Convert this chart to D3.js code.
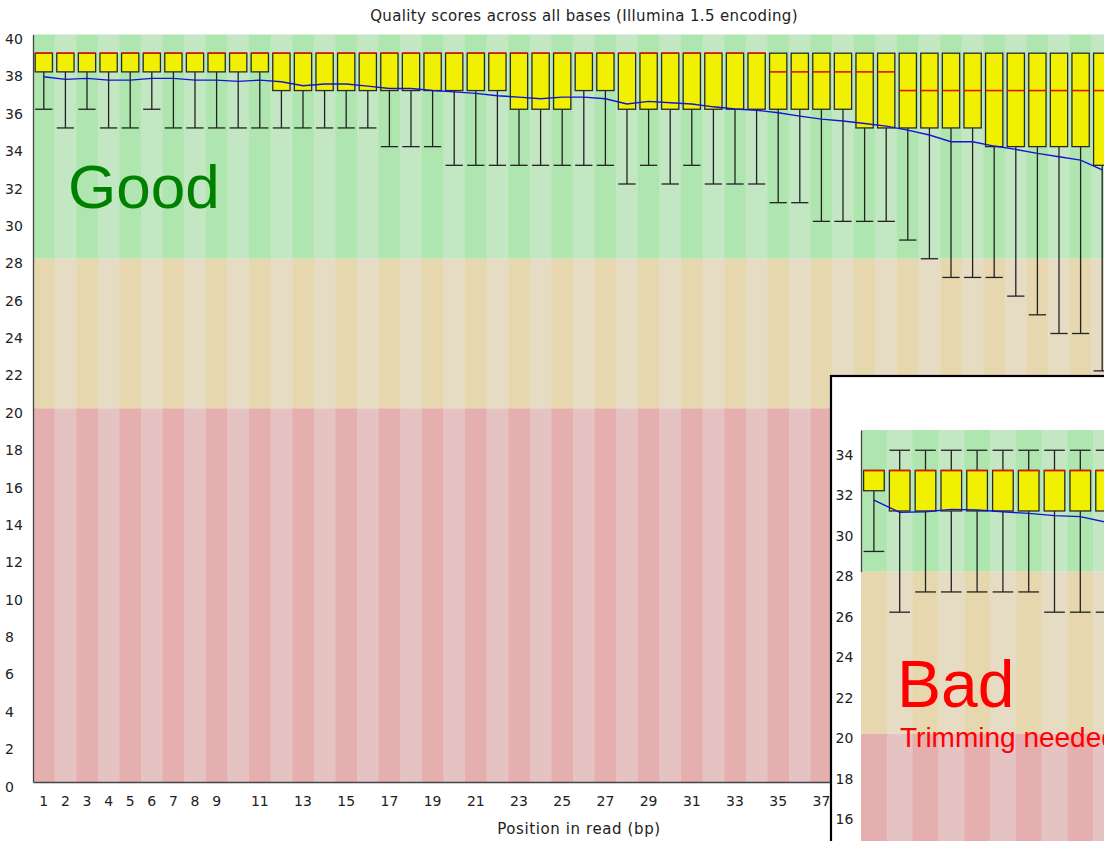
<!DOCTYPE html>
<html><head><meta charset="utf-8">
<script src="https://cdn.jsdelivr.net/npm/d3@7"></script>
<style>html,body{margin:0;padding:0;overflow:hidden;background:#fff}</style>
</head><body>
<svg id="c" width="1104" height="841"></svg>
<script>
// ---------- main chart data ----------
const mainPositions = [1,2,3,4,5,6,7,8,9,10,11,12,13,14,15,16,17,18,19,20,21,22,23,24,25,26,27,28,29,30,31,32,33,34,35,36,37,38,39,40,41,42,43,44,45,46,47,48,49,50];
const mainTickLabels = [1,2,3,4,5,6,7,8,9,11,13,15,17,19,21,23,25,27,29,31,33,35,37,39,41,43,45,47,49];
const mainYTicks = [0,2,4,6,8,10,12,14,16,18,20,22,24,26,28,30,32,34,36,38,40];
const mainMedian = [39,39,39,39,39,39,39,39,39,39,39,39,39,39,39,39,39,39,39,39,39,39,39,39,39,39,39,39,39,39,39,39,39,39,38,38,38,38,38,38,37,37,37,37,37,37,37,37,37,37];
const mainUpperQ = [39,39,39,39,39,39,39,39,39,39,39,39,39,39,39,39,39,39,39,39,39,39,39,39,39,39,39,39,39,39,39,39,39,39,39,39,39,39,39,39,39,39,39,39,39,39,39,39,39,39];
const mainLowerQ = [38,38,38,38,38,38,38,38,38,38,38,37,37,37,37,37,37,37,37,37,37,37,36,36,36,37,37,36,36,36,36,36,36,36,36,36,36,36,35,35,35,35,35,35,34,34,34,34,34,33];
const mainP10 = [36,35,36,35,35,36,35,35,35,35,35,35,35,35,35,35,34,34,34,33,33,33,33,33,33,33,33,32,33,32,33,32,32,32,31,31,30,30,30,30,29,28,27,27,27,26,25,24,24,22];
const mainP90 = [39,39,39,39,39,39,39,39,39,39,39,39,39,39,39,39,39,39,39,39,39,39,39,39,39,39,39,39,39,39,39,39,39,39,39,39,39,39,39,39,39,39,39,39,39,39,39,39,39,39];
const mainMean = [37.74,37.6,37.65,37.56,37.56,37.65,37.65,37.56,37.56,37.49,37.56,37.47,37.26,37.35,37.35,37.24,37.11,37.11,37.0,36.93,36.85,36.72,36.65,36.56,36.65,36.65,36.56,36.28,36.42,36.35,36.28,36.13,36.01,35.95,35.81,35.63,35.47,35.37,35.24,35.1,34.88,34.62,34.26,34.26,34.03,33.85,33.64,33.46,33.28,32.75];

// ---------- inset (bad) chart data ----------
const insetPositions = [1,2,3,4,5,6,7,8,9,10];
const insetYTicks = [16,18,20,22,24,26,28,30,32,34];
const insetMedian = [33,33,33,33,33,33,33,33,33,33];
const insetUpperQ = [33,33,33,33,33,33,33,33,33,33];
const insetLowerQ = [32,31,31,31,31,31,31,31,31,31];
const insetP10 = [29,26,27,27,27,27,27,26,26,26];
const insetP90 = [33,34,34,34,34,34,34,34,34,34];
const insetMean = [31.54,30.93,30.96,31.08,31.05,30.96,30.88,30.77,30.72,30.45];

// zone thresholds
const zoneBreaks = [20, 28];
const zoneColors = {
  good: ["rgb(175,230,175)", "rgb(195,230,195)"],
  bad:  ["rgb(230,215,175)", "rgb(230,220,195)"],
  ugly: ["rgb(230,175,175)", "rgb(230,195,195)"]
};

const svg = d3.select("#c");
const FONT = "DejaVu Sans, sans-serif";

function drawPlot(g, cfg) {
  const {positions, median, upperQ, lowerQ, p10, p90, mean, x, y, yMax, yMin, yTicks, labelX} = cfg;
  const bw = x.bandwidth();
  const zones = [
    {key: "good", lo: zoneBreaks[1], hi: yMax},
    {key: "bad", lo: zoneBreaks[0], hi: zoneBreaks[1]},
    {key: "ugly", lo: yMin, hi: zoneBreaks[0]}
  ];
  positions.forEach((p, i) => {
    zones.forEach(z => {
      g.append("rect")
        .attr("x", x(p)).attr("width", bw + 0.5)
        .attr("y", y(z.hi)).attr("height", y(z.lo) - y(z.hi))
        .attr("fill", zoneColors[z.key][i % 2]);
    });
  });
  const boxW = bw * 0.8, off = bw * 0.1;
  positions.forEach((p, i) => {
    const cx = x(p) + bw / 2;
    const col = g.append("g");
    col.append("line").attr("x1", cx).attr("x2", cx).attr("y1", y(lowerQ[i])).attr("y2", y(p10[i]))
      .attr("stroke", "#222").attr("stroke-width", 1.3);
    col.append("line").attr("x1", x(p) + off).attr("x2", x(p) + off + boxW).attr("y1", y(p10[i])).attr("y2", y(p10[i]))
      .attr("stroke", "#222").attr("stroke-width", 1.3);
    if (p90[i] > upperQ[i]) {
      col.append("line").attr("x1", cx).attr("x2", cx).attr("y1", y(upperQ[i])).attr("y2", y(p90[i]))
        .attr("stroke", "#222").attr("stroke-width", 1.3);
      col.append("line").attr("x1", x(p) + off).attr("x2", x(p) + off + boxW).attr("y1", y(p90[i])).attr("y2", y(p90[i]))
        .attr("stroke", "#222").attr("stroke-width", 1.3);
    }
    col.append("rect").attr("x", x(p) + off).attr("width", boxW)
      .attr("y", y(upperQ[i])).attr("height", y(lowerQ[i]) - y(upperQ[i]))
      .attr("fill", "rgb(240,240,0)").attr("stroke", "#2a2a2a").attr("stroke-width", 1.3);
    col.append("line").attr("x1", x(p) + off).attr("x2", x(p) + off + boxW)
      .attr("y1", y(median[i])).attr("y2", y(median[i]))
      .attr("stroke", "rgb(220,20,0)").attr("stroke-width", 1.6);
  });
  const line = d3.line().x((d, i) => x(positions[i]) + bw / 2).y(d => y(d));
  g.append("path").datum(mean).attr("d", line).attr("fill", "none")
    .attr("stroke", "rgb(20,20,210)").attr("stroke-width", 1.4);
  const yAxis = d3.axisLeft(y).tickValues(yTicks).tickFormat(d3.format("d"))
    .tickSize(0).tickSizeOuter(0).tickPadding(0);
  const ya = g.append("g").attr("transform", `translate(${x.range()[0]},0)`).call(yAxis);
  ya.select(".domain").attr("stroke", "#444").attr("stroke-width", 1.3);
  ya.selectAll("text").attr("x", labelX - x.range()[0]).attr("dy", "9px")
    .attr("text-anchor", "start").attr("font-family", FONT).attr("font-size", 14).attr("fill", "#222");
  return ya;
}

// ---------- main chart ----------
const mx = d3.scaleBand().domain(mainPositions).range([33, 33 + 50 * 21.6]).padding(0);
const my = d3.scaleLinear().domain([0, 40]).range([782, 34.5]);
const mg = svg.append("g");
drawPlot(mg, {positions: mainPositions, median: mainMedian, upperQ: mainUpperQ, lowerQ: mainLowerQ,
  p10: mainP10, p90: mainP90, mean: mainMean, x: mx, y: my, yMax: 40, yMin: 0, yTicks: mainYTicks, labelX: 5});

const xAxis = d3.axisBottom(mx).tickValues(mainTickLabels).tickSize(0).tickSizeOuter(0).tickPadding(0);
const xa = mg.append("g").attr("transform", "translate(0,782)").call(xAxis);
xa.select(".domain").attr("stroke", "#444").attr("stroke-width", 1.3);
xa.selectAll("text").attr("y", 0).attr("dy", "24px")
  .attr("font-family", FONT).attr("font-size", 14).attr("fill", "#222");

svg.append("text").attr("x", 584).attr("y", 21).attr("text-anchor", "middle")
  .attr("font-family", FONT).attr("font-size", 15).attr("letter-spacing", "0.35px").attr("fill", "#222")
  .text("Quality scores across all bases (Illumina 1.5 encoding)");
svg.append("text").attr("x", 579).attr("y", 834).attr("text-anchor", "middle")
  .attr("font-family", FONT).attr("font-size", 15).attr("letter-spacing", "0.6px").attr("fill", "#222")
  .text("Position in read (bp)");

svg.append("text").attr("x", 68).attr("y", 208)
  .attr("font-family", "Liberation Sans, Arial, sans-serif").attr("font-size", 62).attr("fill", "rgb(0,128,0)")
  .text("Good");

// ---------- inset ----------
svg.append("rect").attr("x", 831).attr("y", 376).attr("width", 400).attr("height", 600)
  .attr("fill", "#fff").attr("stroke", "#000").attr("stroke-width", 2.2);
const ix = d3.scaleBand().domain(insetPositions).range([861, 861 + 10 * 25.8]).padding(0);
const iy = d3.scaleLinear().domain([28, 35]).range([571.7, 430]);
const ig = svg.append("g");
drawPlot(ig, {positions: insetPositions, median: insetMedian, upperQ: insetUpperQ, lowerQ: insetLowerQ,
  p10: insetP10, p90: insetP90, mean: insetMean, x: ix, y: iy, yMax: 35, yMin: 10, yTicks: insetYTicks, labelX: 835.5});

svg.append("text").attr("x", 897).attr("y", 707)
  .attr("font-family", "Liberation Sans, Arial, sans-serif").attr("font-size", 66).attr("fill", "rgb(255,0,0)")
  .text("Bad");
svg.append("text").attr("x", 900).attr("y", 747)
  .attr("font-family", "Liberation Sans, Arial, sans-serif").attr("font-size", 28).attr("fill", "rgb(255,0,0)")
  .text("Trimming needed");
</script>
</body></html>
